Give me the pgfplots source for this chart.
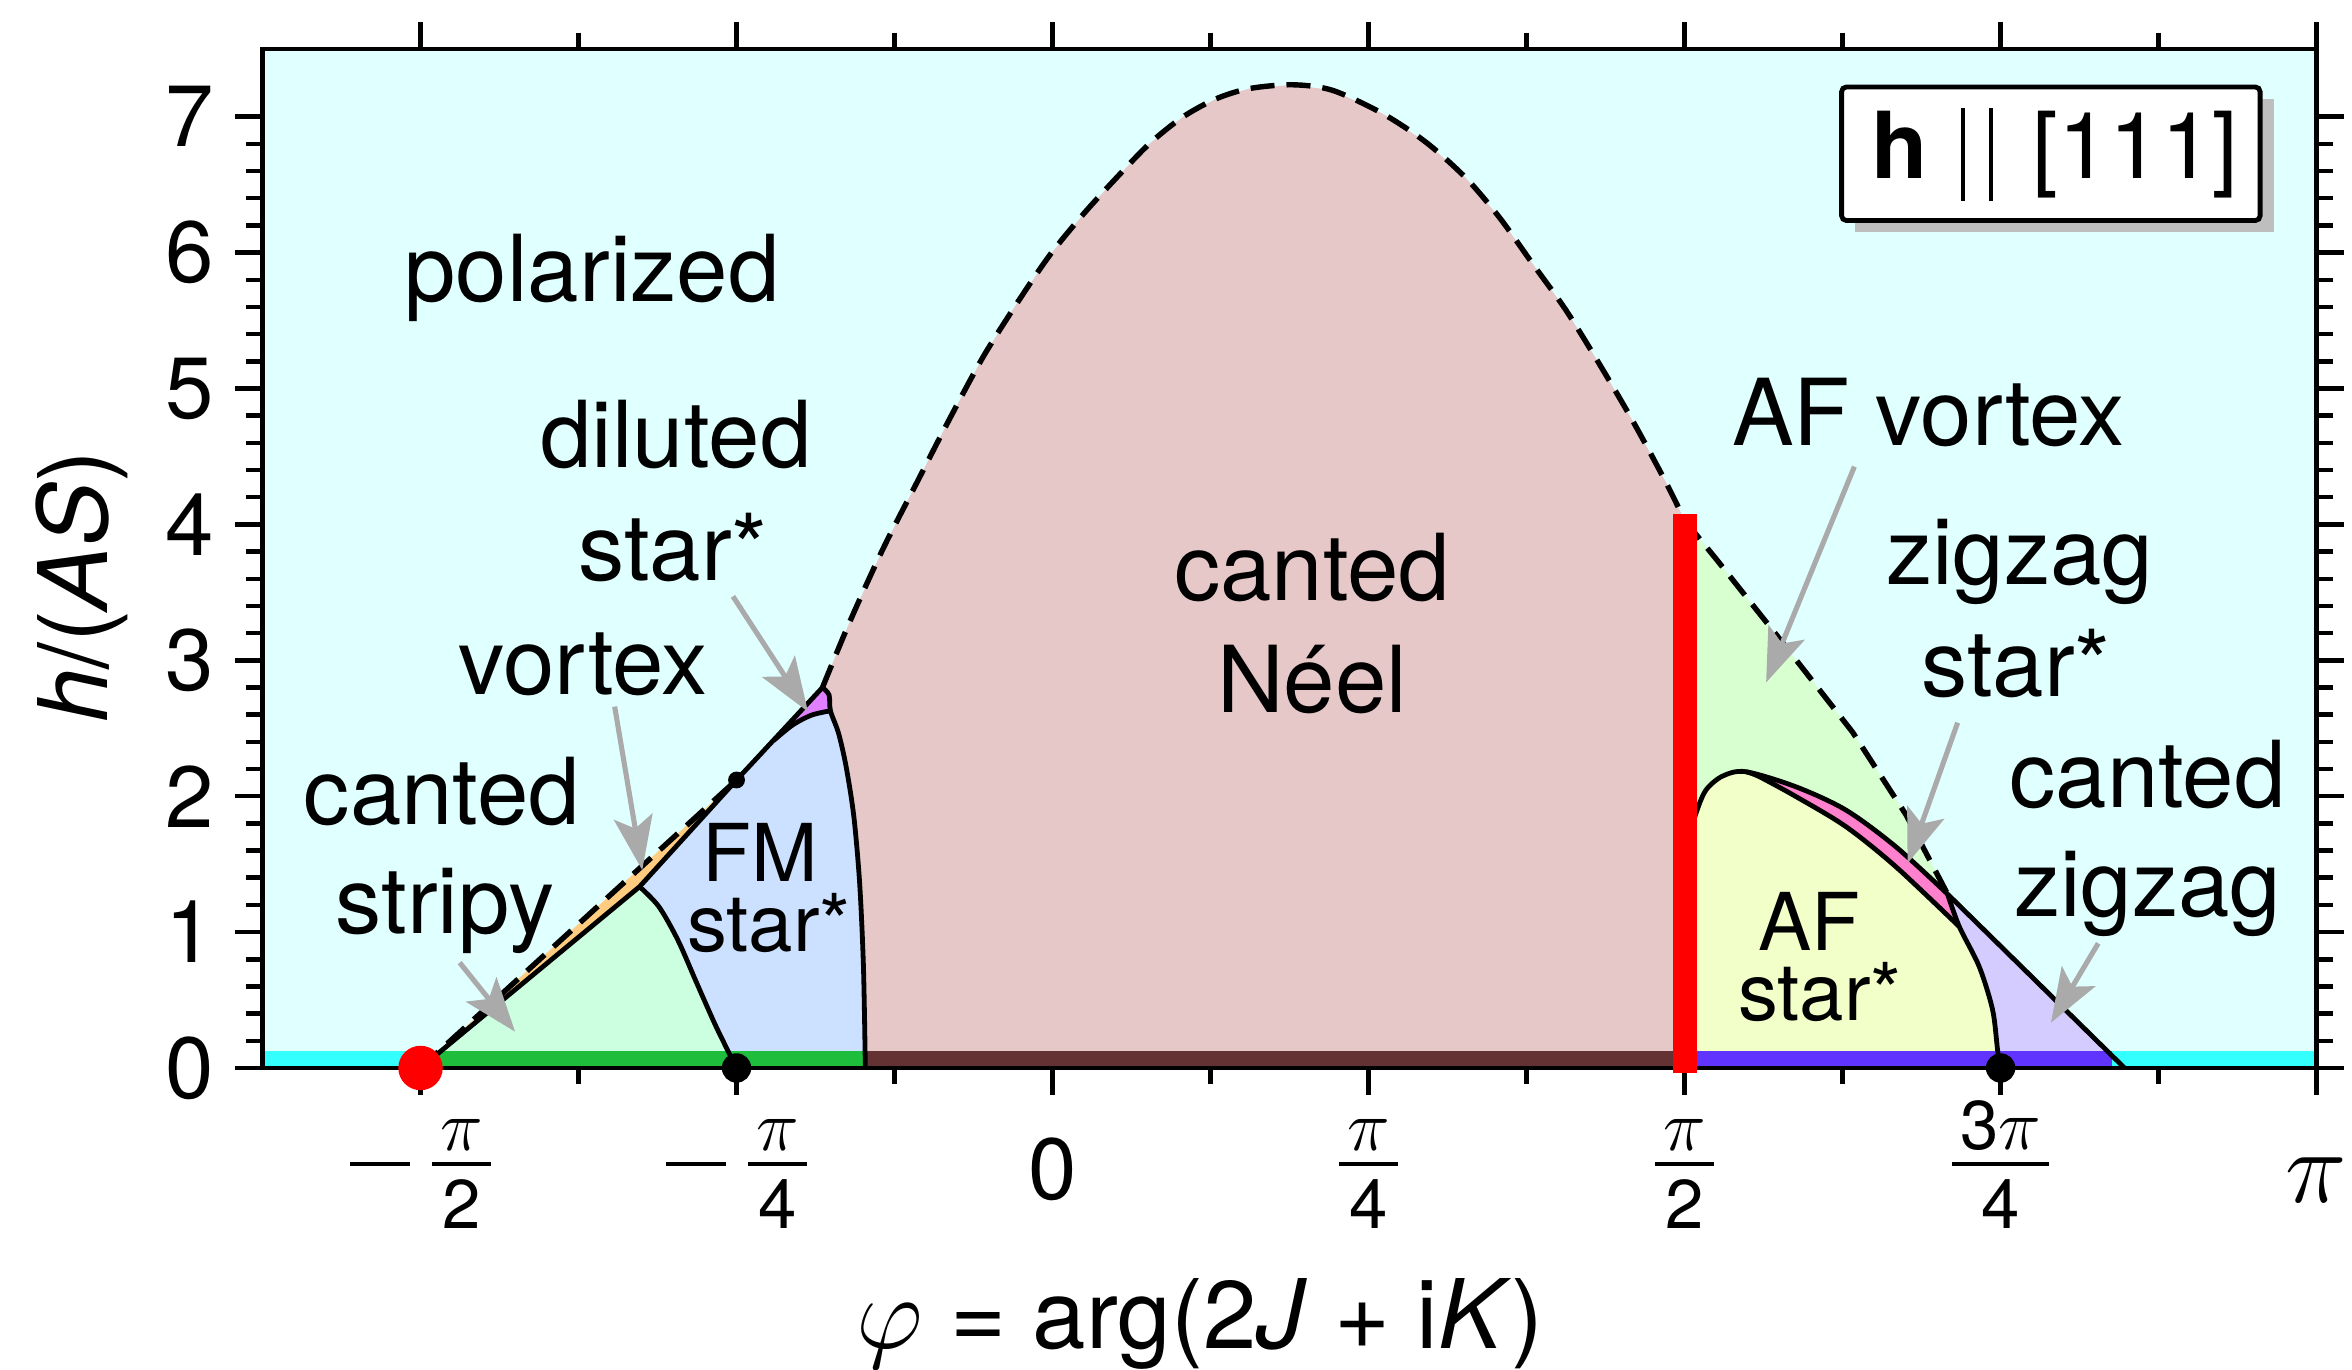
\documentclass[border=0pt]{standalone}
\usepackage{fontspec}
\setmainfont{TeX Gyre Heros}
\usepackage{amsmath}
\usepackage{pgfplots}
\pgfplotsset{compat=1.18}
\usetikzlibrary{arrows.meta}
\definecolor{polar}{HTML}{E0FFFF}
\definecolor{cstripy}{HTML}{CCFFE0}
\definecolor{vortexc}{HTML}{FFCC80}
\definecolor{fmstar}{HTML}{CCE0FF}
\definecolor{dilstar}{HTML}{E080FF}
\definecolor{neel}{HTML}{E6C8C8}
\definecolor{afvortex}{HTML}{D8FFD0}
\definecolor{afstar}{HTML}{F2FFC8}
\definecolor{zzstar}{HTML}{FF80CC}
\definecolor{czigzag}{HTML}{D4CCFF}
\definecolor{stripcyan}{HTML}{33FFFF}
\definecolor{stripgreen}{HTML}{1EBE3C}
\definecolor{stripbrown}{HTML}{643232}
\definecolor{stripblue}{HTML}{6033FF}
\definecolor{arrgray}{HTML}{AAAAAA}
\definecolor{shadowgray}{HTML}{BEBEBE}
\newcommand{\lab}{\fontsize{15.4}{17}\selectfont}
\newcommand{\slab}{\fontsize{13.3}{15}\selectfont}
\newcommand{\tl}[2]{\raisebox{#1}[0pt][0pt]{#2}}
\newcommand{\fr}[2]{\vbox{\offinterlineskip\fontsize{11.5}{11.5}\selectfont\halign{\hfil\kern1.4pt##\kern1.4pt\hfil\cr #1\cr\noalign{\kern2pt\hrule height0.65pt\kern2.25pt}#2\cr}}}
\newcommand{\mn}{\rule[10.4pt]{10pt}{0.7pt}\hspace*{3.75pt}}
\begin{document}
\begin{tikzpicture}
\begin{axis}[
  name=ax,
  scale only axis,
  width=342.35pt, height=169.875pt,
  xmin=-0.625, xmax=1, ymin=0, ymax=7.5,
  clip=false,
  axis background/.style={fill=polar},
  axis line style={line width=0.75pt},
  tick style={black, line width=0.75pt},
  tick align=outside,
  major tick length=4.5pt, minor tick length=2.7pt,
  xtick={-0.5,-0.25,0,0.25,0.5,0.75,1},
  xticklabels={{\tl{-4.75pt}{\mn\fr{$\pi$}{2}}}, {\tl{-4.75pt}{\mn\fr{$\pi$}{4}}}, {\tl{0pt}{0}}, {\tl{-4.75pt}{\fr{$\pi$}{4}}}, {\tl{-4.75pt}{\fr{$\pi$}{2}}}, {\tl{-4.75pt}{\fr{3$\pi$}{4}}}, {\tl{-0.5pt}{\fontsize{16}{16}\selectfont$\pi$}}},
  minor xtick={-0.375,-0.125,0.125,0.375,0.625,0.875},
  ytick={0,1,...,7},
  minor y tick num=4,
  tick label style={font=\fontsize{14.5}{16}\selectfont},
  yticklabel style={/pgf/number format/assume math mode=true},
  xticklabel style={anchor=center, inner sep=0pt, yshift=-17.5pt},
  xlabel={$\varphi$ = arg(2\textit{J} + i\textit{K})},
  ylabel={\textit{h}/(\textit{AS})},
  label style={font=\fontsize{16}{18}\selectfont},
  xlabel style={at={(axis description cs:0.4565,-0.2507)}, anchor=center},
  ylabel style={at={(axis description cs:-0.088,0.472)}, anchor=center},
]
% ---- regions ----
\addplot[fill=cstripy, draw=none] coordinates {(-0.5,0) (-0.3267,1.334) (-0.3115,1.188) (-0.2964,0.941) (-0.2814,0.623) (-0.2662,0.305) (-0.25,0)};
\addplot[fill=vortexc, draw=none] coordinates {(-0.5,0) (-0.25,2.119) (-0.3267,1.334)};
\addplot[fill=fmstar, draw=none] coordinates {(-0.3267,1.334) (-0.25,2.119) (-0.2207,2.409) (-0.2056,2.524) (-0.1905,2.597) (-0.1757,2.628) (-0.1693,2.463) (-0.1633,2.217) (-0.1572,1.85) (-0.1526,1.359) (-0.1496,0.746) (-0.1481,0) (-0.25,0) (-0.2662,0.305) (-0.2814,0.623) (-0.2964,0.941) (-0.3115,1.188)};
\addplot[fill=dilstar, draw=none] coordinates {(-0.2207,2.409) (-0.182,2.80) (-0.1768,2.745) (-0.1757,2.628) (-0.1905,2.597) (-0.2056,2.524)};
\addplot[fill=neel, draw=none] coordinates {(-0.1481,0) (-0.1496,0.746) (-0.1526,1.359) (-0.1572,1.85) (-0.1633,2.217) (-0.1693,2.463) (-0.1757,2.628) (-0.1768,2.745) (-0.182,2.80) (-0.1609,3.273) (-0.1345,3.813) (-0.1081,4.294) (-0.0818,4.77) (-0.0554,5.225) (-0.029,5.615) (-0.0026,5.976) (0.0237,6.276) (0.0501,6.546) (0.0765,6.80) (0.1029,6.997) (0.1292,7.131) (0.1556,7.207) (0.1899,7.235) (0.2215,7.194) (0.2611,7.023) (0.2954,6.812) (0.3269,6.55) (0.3534,6.26) (0.3797,5.919) (0.4061,5.577) (0.4324,5.183) (0.4589,4.763) (0.4852,4.31) (0.5,4.03) (0.5,0)};
\addplot[fill=afvortex, draw=none] coordinates {(0.5,0) (0.5,4.03) (0.5256,3.738) (0.5764,3.143) (0.6329,2.471) (0.6753,1.861) (0.708,1.28) (0.848,0)};
\addplot[fill=czigzag, draw=none] coordinates {(0.708,1.28) (0.848,0) (0.75,0) (0.7476,0.132) (0.7437,0.426) (0.7331,0.745) (0.7173,1.04)};
\addplot[fill=afstar, draw=none] coordinates {(0.5,0) (0.5,1.6) (0.509,1.874) (0.5169,2.045) (0.5301,2.148) (0.5485,2.18) (0.559,2.144) (0.5881,1.997) (0.6276,1.776) (0.6671,1.481) (0.7173,1.04) (0.7331,0.745) (0.7437,0.426) (0.7476,0.132) (0.75,0)};
\addplot[fill=zzstar, draw=none] coordinates {(0.5485,2.18) (0.5881,2.069) (0.6276,1.898) (0.6671,1.628) (0.708,1.28) (0.7173,1.04) (0.6671,1.481) (0.6276,1.776) (0.5881,1.997) (0.559,2.144)};
% ---- bottom strips ----
\addplot[fill=stripcyan, draw=none] coordinates {(-0.625,0) (-0.5,0) (-0.5,0.125) (-0.625,0.125)};
\addplot[fill=stripgreen, draw=none] coordinates {(-0.5,0) (-0.1481,0) (-0.1481,0.125) (-0.5,0.125)};
\addplot[fill=stripbrown, draw=none] coordinates {(-0.1481,0) (0.5,0) (0.5,0.125) (-0.1481,0.125)};
\addplot[fill=stripblue, draw=none] coordinates {(0.5,0) (0.838,0) (0.838,0.125) (0.5,0.125)};
\addplot[fill=stripcyan, draw=none] coordinates {(0.838,0) (1,0) (1,0.125) (0.838,0.125)};
% ---- boundaries ----
\addplot[black, line width=0.8pt] coordinates {(-0.5,0) (-0.3267,1.334) (-0.25,2.119) (-0.182,2.80)};
\addplot[black, line width=0.8pt, smooth] coordinates {(-0.3267,1.334) (-0.3115,1.188) (-0.2964,0.941) (-0.2814,0.623) (-0.2662,0.305) (-0.25,0)};
\addplot[black, line width=0.8pt, smooth] coordinates {(-0.2207,2.409) (-0.2056,2.524) (-0.1905,2.597) (-0.1757,2.628)};
\addplot[black, line width=0.8pt, smooth] coordinates {(-0.182,2.80) (-0.1768,2.745) (-0.1757,2.628) (-0.1693,2.463) (-0.1633,2.217) (-0.1572,1.85) (-0.1526,1.359) (-0.1496,0.746) (-0.1481,0)};
\addplot[black, line width=0.9pt, dash pattern=on 4pt off 2pt] coordinates {(-0.5,0) (-0.25,2.119)};
\addplot[black, line width=0.9pt, dash pattern=on 4pt off 2pt, smooth] coordinates {(-0.182,2.80) (-0.1609,3.273) (-0.1345,3.813) (-0.1081,4.294) (-0.0818,4.77) (-0.0554,5.225) (-0.029,5.615) (-0.0026,5.976) (0.0237,6.276) (0.0501,6.546) (0.0765,6.80) (0.1029,6.997) (0.1292,7.131) (0.1556,7.207) (0.1899,7.235) (0.2215,7.194) (0.2611,7.023) (0.2954,6.812) (0.3269,6.55) (0.3534,6.26) (0.3797,5.919) (0.4061,5.577) (0.4324,5.183) (0.4589,4.763) (0.4852,4.31) (0.5,4.03)};
\addplot[black, line width=0.9pt, dash pattern=on 4pt off 2pt] coordinates {(0.5,4.03) (0.5256,3.738) (0.5764,3.143) (0.6329,2.471) (0.6753,1.861) (0.708,1.28)};
\addplot[black, line width=0.8pt] coordinates {(0.708,1.28) (0.848,0)};
\addplot[black, line width=0.8pt, smooth] coordinates {(0.5,1.6) (0.509,1.874) (0.5169,2.045) (0.5301,2.148) (0.5485,2.18) (0.5881,2.069) (0.6276,1.898) (0.6671,1.628) (0.708,1.28)};
\addplot[black, line width=0.8pt, smooth] coordinates {(0.5485,2.18) (0.559,2.144) (0.5881,1.997) (0.6276,1.776) (0.6671,1.481) (0.7173,1.04)};
\addplot[black, line width=0.8pt, smooth] coordinates {(0.708,1.28) (0.7173,1.04) (0.7331,0.745) (0.7437,0.426) (0.7476,0.132) (0.75,0)};
% ---- red bar ----
\addplot[fill=red, draw=none] coordinates {(0.4905,-0.04) (0.5095,-0.04) (0.5095,4.076) (0.4905,4.076)};
% frame redrawn over the fills
\draw[line width=0.75pt] (rel axis cs:0,0) rectangle (rel axis cs:1,1);
\addplot[fill=red, draw=none] coordinates {(0.4905,-0.04) (0.5095,-0.04) (0.5095,0.03) (0.4905,0.03)};
% ---- dots ----
\addplot[only marks, mark=*, mark size=3.5pt, red, mark options={draw=red, fill=red}] coordinates {(-0.5,0)};
\addplot[only marks, mark=*, mark size=2.25pt, black] coordinates {(-0.25,0) (0.75,0)};
\addplot[only marks, mark=*, mark size=1.2pt, black] coordinates {(-0.25,2.119)};
% ---- arrows ----
\begin{scope}[arrgray, line width=0.85pt, -{Stealth[length=9pt,width=6.5pt,inset=2pt]}]
\draw (axis cs:-0.469,0.775) -- (axis cs:-0.4252,0.267);
\draw (axis cs:-0.3464,2.659) -- (axis cs:-0.3246,1.457);
\draw (axis cs:-0.2528,3.47) -- (axis cs:-0.1935,2.622);
\draw (axis cs:0.6343,4.425) -- (axis cs:0.5645,2.837);
\draw (axis cs:0.716,2.541) -- (axis cs:0.6764,1.506);
\draw (axis cs:0.8272,0.917) -- (axis cs:0.7898,0.333);
\end{scope}
% ---- labels ----
\node[anchor=base, font=\lab, inner sep=0pt] at (axis cs:-0.3643,5.64) {polarized};
\node[anchor=base, font=\lab, inner sep=0pt] at (axis cs:-0.2979,4.415) {diluted};
\node[anchor=base, font=\lab, inner sep=0pt] at (axis cs:-0.3002,3.587) {star*};
\node[anchor=base, font=\lab, inner sep=0pt] at (axis cs:-0.3714,2.745) {vortex};
\node[anchor=base, font=\lab, inner sep=0pt] at (axis cs:-0.483,1.79) {canted};
\node[anchor=base, font=\lab, inner sep=0pt] at (axis cs:-0.4806,0.993) {stripy};
\node[anchor=base, font=\slab, inner sep=0pt] at (axis cs:-0.2314,1.371) {FM};
\node[anchor=base, font=\slab, inner sep=0pt] at (axis cs:-0.2243,0.856) {star*};
\node[anchor=base, font=\lab, inner sep=0pt] at (axis cs:0.2053,3.438) {canted};
\node[anchor=base, font=\lab, inner sep=0pt] at (axis cs:0.2053,2.616) {Néel};
\node[anchor=base, font=\lab, inner sep=0pt] at (axis cs:0.693,4.58) {AF vortex};
\node[anchor=base, font=\lab, inner sep=0pt] at (axis cs:0.765,3.555) {zigzag};
\node[anchor=base, font=\lab, inner sep=0pt] at (axis cs:0.7622,2.731) {star*};
\node[anchor=base, font=\lab, inner sep=0pt] at (axis cs:0.8663,1.92) {canted};
\node[anchor=base, font=\lab, inner sep=0pt] at (axis cs:0.8663,1.113) {zigzag};
\node[anchor=base, font=\slab, inner sep=0pt] at (axis cs:0.5987,0.868) {AF};
\node[anchor=base, font=\slab, inner sep=0pt] at (axis cs:0.6072,0.353) {star*};
% ---- boxed annotation ----
\fill[shadowgray] (axis cs:0.6349,6.148) rectangle (axis cs:0.966,7.131);
\draw[line width=0.8pt, fill=white, rounded corners=0.8pt] (axis cs:0.6242,6.236) rectangle (axis cs:0.9553,7.219);
\node[anchor=base west, inner sep=0pt, font=\lab] at (axis cs:0.6467,6.544) {\rlap{\textbf{h}}\hspace*{14.93pt}\rule[-3.7pt]{0.64pt}{15.5pt}\hspace*{4.1pt}\rule[-3.7pt]{0.64pt}{15.5pt}\hspace*{6.6pt}[111]};
\end{axis}
\pgfresetboundingbox
\path[use as bounding box] ([xshift=-43.75pt,yshift=-50.25pt]ax.south west) rectangle ([xshift=5.9pt,yshift=8.125pt]ax.north east);
\end{tikzpicture}
\end{document}
